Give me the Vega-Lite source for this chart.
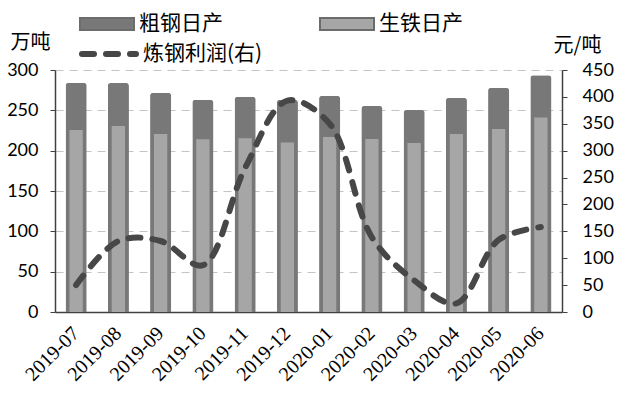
{
  "$schema": "https://vega.github.io/schema/vega-lite/v6.json",
  "width": 507,
  "height": 242,
  "autosize": {"type": "none"},
  "padding": {"left": 55, "top": 70, "right": 61, "bottom": 83},
  "background": "white",
  "config": {
    "view": {"stroke": null},
    "axis": {"labelColor": "#000000", "titleColor": "#000000"},
    "legend": {"labelColor": "#000000"}
  },
  "data": {
    "values": [
      {"month": "2019-07", "crude": 284.3, "pig": 225.7, "profit": 50},
      {"month": "2019-08", "crude": 284.0, "pig": 230.7, "profit": 132},
      {"month": "2019-09", "crude": 271.9, "pig": 220.7, "profit": 132},
      {"month": "2019-10", "crude": 263.2, "pig": 214.2, "profit": 87},
      {"month": "2019-11", "crude": 266.9, "pig": 215.4, "profit": 268},
      {"month": "2019-12", "crude": 263.0, "pig": 210.0, "profit": 393},
      {"month": "2020-01", "crude": 268.0, "pig": 217.0, "profit": 350},
      {"month": "2020-02", "crude": 255.4, "pig": 214.6, "profit": 139},
      {"month": "2020-03", "crude": 250.5, "pig": 209.6, "profit": 59},
      {"month": "2020-04", "crude": 265.7, "pig": 220.7, "profit": 16},
      {"month": "2020-05", "crude": 278.0, "pig": 226.9, "profit": 134},
      {"month": "2020-06", "crude": 293.4, "pig": 241.0, "profit": 158}
    ]
  },
  "encoding": {
    "x": {
      "field": "month",
      "type": "ordinal",
      "scale": {"paddingInner": 0, "paddingOuter": 0},
      "axis": {
        "title": null,
        "labelAngle": -45,
        "labelAlign": "right",
        "labelBaseline": "middle",
        "labelFont": "Liberation Serif",
        "labelFontSize": 20,
        "ticks": false,
        "labelPadding": 18,
        "domainColor": "#404040",
        "domainWidth": 1.5,
        "grid": false
      }
    }
  },
  "layer": [
    {
      "layer": [
        {
          "mark": {"type": "bar", "width": {"band": 0.5}, "cornerRadiusTopLeft": 3, "cornerRadiusTopRight": 3},
          "encoding": {
            "y": {
              "field": "crude",
              "type": "quantitative",
              "scale": {"domain": [0, 300], "nice": false},
              "axis": {
                "title": "万吨",
                "titleAngle": 0,
                "titleX": -25,
                "titleY": -28,
                "titleAlign": "center",
                "titleBaseline": "middle",
                "titleFont": "Noto Sans CJK SC",
                "titleFontSize": 20,
                "titleFontWeight": "normal",
                "values": [0, 50, 100, 150, 200, 250, 300],
                "labelFont": "Lato",
                "labelFontSize": 18,
                "labelPadding": 12,
                "tickSize": 5,
                "tickColor": "#404040",
                "domainColor": "#404040",
                "domainWidth": 1.5,
                "grid": true,
                "gridDash": [8, 6],
                "gridColor": "#c4c4c4",
                "gridWidth": 1
              }
            },
            "color": {
              "datum": "粗钢日产",
              "type": "nominal",
              "scale": {"domain": ["粗钢日产", "生铁日产"], "range": ["#787878", "#a6a6a6"]},
              "legend": {
                "title": null,
                "orient": "none",
                "legendX": 24,
                "legendY": -74,
                "direction": "horizontal",
                "columns": 2,
                "columnPadding": 93,
                "symbolType": "M-1,-0.22H1V0.22H-1Z",
                "symbolSize": 2916,
                "symbolStrokeColor": "#6c6c6c",
                "symbolStrokeWidth": 2,
                "labelFont": "Noto Sans CJK SC",
                "labelFontSize": 21,
                "labelOffset": 4
              }
            }
          }
        },
        {
          "mark": {"type": "bar", "width": {"band": 0.315}},
          "encoding": {
            "y": {"field": "pig", "type": "quantitative"},
            "color": {"datum": "生铁日产", "type": "nominal"}
          }
        }
      ]
    },
    {
      "mark": {
        "type": "line",
        "interpolate": "catmull-rom",
        "strokeWidth": 6,
        "strokeCap": "round",
        "color": "#474747"
      },
      "encoding": {
        "y": {
          "field": "profit",
          "type": "quantitative",
          "scale": {"domain": [0, 450], "nice": false},
          "axis": {
            "orient": "right",
            "title": "元/吨",
            "titleAngle": 0,
            "titleX": 15,
            "titleY": -25,
            "titleAlign": "center",
            "titleBaseline": "middle",
            "titleFont": "Noto Sans CJK SC",
            "titleFontSize": 20,
            "titleFontWeight": "normal",
            "values": [0, 50, 100, 150, 200, 250, 300, 350, 400, 450],
            "labelFont": "Lato",
            "labelFontSize": 18,
            "labelPadding": 15,
            "tickSize": 5,
            "tickColor": "#404040",
            "domainColor": "#404040",
            "domainWidth": 1.5,
            "grid": false
          }
        },
        "strokeDash": {
          "datum": "炼钢利润(右)",
          "type": "nominal",
          "scale": {"range": [[12, 12]]},
          "legend": {
            "title": null,
            "orient": "none",
            "legendX": 24,
            "legendY": -46,
            "symbolType": "stroke",
            "symbolSize": 2916,
            "symbolStrokeColor": "#474747",
            "symbolStrokeWidth": 6,
            "labelFont": "Noto Sans CJK SC",
            "labelFontSize": 21,
            "labelOffset": 4,
            "encode": {"symbols": {"update": {"strokeCap": {"value": "round"}}}}
          }
        }
      }
    }
  ],
  "resolve": {"scale": {"y": "independent"}}
}
